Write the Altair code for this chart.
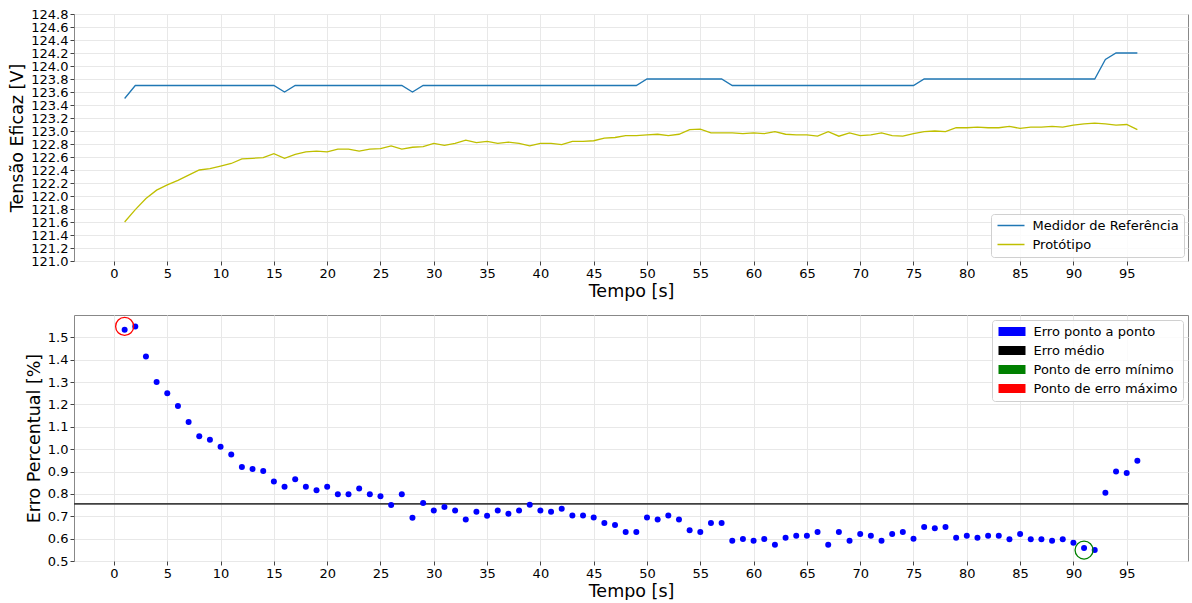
import altair as alt
import pandas as pd

# ---------------- data ----------------
time_s = list(range(1, 97))

ref_values = [
    123.5, 123.7, 123.7, 123.7, 123.7, 123.7, 123.7, 123.7, 123.7, 123.7,
    123.7, 123.7, 123.7, 123.7, 123.7, 123.6, 123.7, 123.7, 123.7, 123.7,
    123.7, 123.7, 123.7, 123.7, 123.7, 123.7, 123.7, 123.6, 123.7, 123.7,
    123.7, 123.7, 123.7, 123.7, 123.7, 123.7, 123.7, 123.7, 123.7, 123.7,
    123.7, 123.7, 123.7, 123.7, 123.7, 123.7, 123.7, 123.7, 123.7, 123.8,
    123.8, 123.8, 123.8, 123.8, 123.8, 123.8, 123.8, 123.7, 123.7, 123.7,
    123.7, 123.7, 123.7, 123.7, 123.7, 123.7, 123.7, 123.7, 123.7, 123.7,
    123.7, 123.7, 123.7, 123.7, 123.7, 123.8, 123.8, 123.8, 123.8, 123.8,
    123.8, 123.8, 123.8, 123.8, 123.8, 123.8, 123.8, 123.8, 123.8, 123.8,
    123.8, 123.8, 124.1, 124.2, 124.2, 124.2,
]

proto_values = [
    121.60, 121.79, 121.96, 122.09, 122.17, 122.24, 122.32, 122.40, 122.42, 122.46,
    122.50, 122.57, 122.58, 122.59, 122.65, 122.58, 122.64, 122.68, 122.69, 122.68,
    122.72, 122.72, 122.69, 122.72, 122.73, 122.77, 122.72, 122.75, 122.76, 122.81,
    122.78, 122.81, 122.86, 122.82, 122.84, 122.81, 122.83, 122.81, 122.77, 122.81,
    122.81, 122.79, 122.84, 122.84, 122.85, 122.89, 122.90, 122.93, 122.93, 122.94,
    122.95, 122.93, 122.95, 123.02, 123.03, 122.97, 122.97, 122.97, 122.96, 122.97,
    122.96, 122.99, 122.95, 122.94, 122.94, 122.92, 122.99, 122.92, 122.97, 122.93,
    122.94, 122.97, 122.93, 122.92, 122.96, 122.99, 123.00, 122.99, 123.05, 123.05,
    123.06, 123.05, 123.05, 123.07, 123.04, 123.06, 123.06, 123.07, 123.06, 123.09,
    123.11, 123.12, 123.11, 123.09, 123.10, 123.02,
]

err_values = [
    1.534, 1.549, 1.414, 1.300, 1.250, 1.193, 1.122, 1.058, 1.042, 1.011,
    0.976, 0.920, 0.911, 0.902, 0.856, 0.832, 0.865, 0.832, 0.816, 0.832,
    0.799, 0.799, 0.824, 0.799, 0.790, 0.750, 0.799, 0.693, 0.759, 0.726,
    0.742, 0.726, 0.686, 0.720, 0.702, 0.726, 0.711, 0.726, 0.751, 0.726,
    0.720, 0.734, 0.704, 0.704, 0.695, 0.670, 0.661, 0.630, 0.630, 0.695,
    0.686, 0.704, 0.686, 0.638, 0.630, 0.670, 0.670, 0.591, 0.598, 0.591,
    0.598, 0.573, 0.604, 0.613, 0.613, 0.630, 0.573, 0.630, 0.591, 0.621,
    0.613, 0.591, 0.621, 0.630, 0.600, 0.652, 0.646, 0.652, 0.604, 0.613,
    0.604, 0.613, 0.613, 0.597, 0.621, 0.597, 0.597, 0.591, 0.597, 0.582,
    0.558, 0.549, 0.805, 0.900, 0.893, 0.948,
]

mean_error = [0.755]

marker_t = [1, 91]
marker_err = [1.549, 0.549]
marker_colors = ["#ff0000", "#008000"]

series_labels = ["Medidor de Referência", "Protótipo"]
series_colors = ["#1f77b4", "#bfbf00"]

err_labels = ["Erro ponto a ponto", "Erro médio", "Ponto de erro mínimo", "Ponto de erro máximo"]
err_colors = ["#0000ff", "#000000", "#008000", "#ff0000"]

x_ticks = [0, 5, 10, 15, 20, 25, 30, 35, 40, 45, 50, 55, 60, 65, 70, 75, 80, 85, 90, 95]
y_ticks_top = [121.0, 121.2, 121.4, 121.6, 121.8, 122.0, 122.2, 122.4, 122.6, 122.8,
               123.0, 123.2, 123.4, 123.6, 123.8, 124.0, 124.2, 124.4, 124.6, 124.8]
y_ticks_bottom = [0.5, 0.6, 0.7, 0.8, 0.9, 1.0, 1.1, 1.2, 1.3, 1.4, 1.5]

FONT = "DejaVu Sans"
W = 1114

x_scale = alt.Scale(domain=[-3.75, 100.75], nice=False, zero=False)
x_axis = alt.Axis(values=x_ticks, title="Tempo [s]", format="d", labelOverlap=False,
                  titlePadding=2)

# legend symbols: small nominal size (10 px) with a wider custom path (27 px)
legend_common = dict(labelFontSize=13, labelFont=FONT, labelOffset=15, labelLimit=400,
                     padding=5, strokeColor="#d0d0d0", cornerRadius=3,
                     fillColor="rgba(255,255,255,0.8)", labelColor="#000000",
                     symbolSize=100, symbolOffset=8.5)

line_path = "M-2.7,0L2.7,0"
rect_path = "M-2.7,-0.9L2.7,-0.9L2.7,0.9L-2.7,0.9Z"

# ---------------- top chart ----------------
df_top = pd.DataFrame({
    "t": time_s + time_s,
    "v": ref_values + proto_values,
    "serie": [series_labels[0]] * len(ref_values) + [series_labels[1]] * len(proto_values),
})

top = alt.Chart(df_top).mark_line(strokeWidth=1.3).encode(
    x=alt.X("t:Q", scale=x_scale, axis=x_axis),
    y=alt.Y("v:Q",
            scale=alt.Scale(domain=[121.0, 124.8], nice=False, zero=False),
            axis=alt.Axis(values=y_ticks_top, format=".1f", title="Tensão Eficaz [V]",
                          labelOverlap=False)),
    color=alt.Color("serie:N",
                    scale=alt.Scale(domain=series_labels, range=series_colors),
                    title=None,
                    legend=alt.Legend(orient="bottom-right", offset=4,
                                      symbolType=line_path, symbolFillColor="transparent",
                                      symbolStrokeWidth=1.5, rowPadding=5,
                                      **legend_common)),
).properties(width=W, height=247)

# ---------------- bottom chart ----------------
df_err = pd.DataFrame({"t": time_s, "e": err_values, "k": err_labels[0]})
df_mean = pd.DataFrame({"e": mean_error})
df_mark = pd.DataFrame({"t": marker_t, "e": marker_err, "c": marker_colors})

y_bottom = alt.Y("e:Q",
                 scale=alt.Scale(domain=[0.5, 1.6], nice=False, zero=False),
                 axis=alt.Axis(values=y_ticks_bottom, format=".1f", title="Erro Percentual [%]",
                               labelOverlap=False))

mean_rule = alt.Chart(df_mean).mark_rule(color="#404040", strokeWidth=1.8).encode(
    y=y_bottom
)

points = alt.Chart(df_err).mark_circle(size=36, opacity=1).encode(
    x=alt.X("t:Q", scale=x_scale, axis=x_axis),
    y=y_bottom,
    color=alt.Color("k:N",
                    scale=alt.Scale(domain=err_labels, range=err_colors),
                    title=None,
                    legend=alt.Legend(orient="top-right", offset=5,
                                      symbolType=rect_path,
                                      symbolStrokeWidth=0, symbolOpacity=1,
                                      rowPadding=5, **legend_common)),
)

markers = alt.Chart(df_mark).mark_point(filled=False, size=324, strokeWidth=1.3, opacity=1).encode(
    x=alt.X("t:Q", scale=x_scale, axis=x_axis),
    y=y_bottom,
    stroke=alt.Stroke("c:N", scale=None),
)

bottom = alt.layer(mean_rule, points, markers).properties(width=W, height=246)

chart = alt.vconcat(top, bottom, spacing=14).resolve_scale(
    color="independent", x="independent", y="independent"
).resolve_legend(
    color="independent"
).properties(
    padding={"left": 8, "top": 7, "right": 2, "bottom": 0}
).configure(
    font=FONT
).configure_axis(
    labelFont=FONT, labelFontSize=13, labelColor="#000000",
    titleFont=FONT, titleFontSize=17.5, titleFontWeight="normal", titleColor="#000000",
    gridColor="#e8e8e8", gridWidth=1,
    tickColor="#444444", tickSize=4, tickWidth=1,
    domain=False, labelPadding=2, titlePadding=4,
).configure_view(
    stroke="#888888", strokeWidth=1
)

chart.save("out.html", embed_options={"renderer": "svg", "actions": False})
